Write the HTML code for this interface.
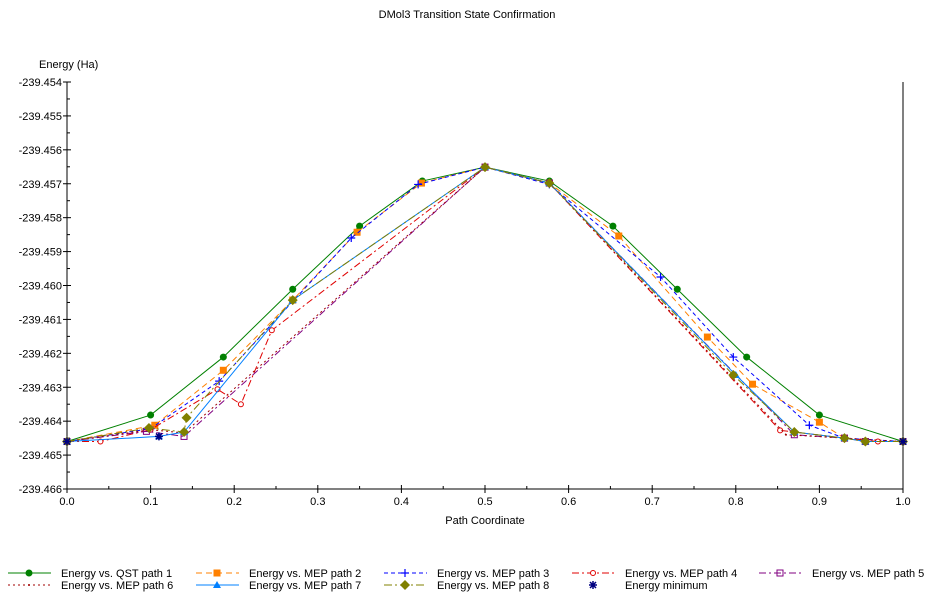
<!DOCTYPE html>
<html><head><meta charset="utf-8"><style>
body{margin:0;background:#fff;font-family:"Liberation Sans",sans-serif;}
svg text{font-family:"Liberation Sans",sans-serif;font-size:11px;fill:#000;}
</style></head><body>
<svg id="c" width="935" height="597" xmlns="http://www.w3.org/2000/svg">
<text x="467" y="18" text-anchor="middle">DMol3 Transition State Confirmation</text>
<text x="39" y="68">Energy (Ha)</text>
<text x="485" y="524" text-anchor="middle">Path Coordinate</text>
</svg>
<script>
const xTicks=[0,0.1,0.2,0.3,0.4,0.5,0.6,0.7,0.8,0.9,1.0];
const yTicks=[-239.454,-239.455,-239.456,-239.457,-239.458,-239.459,-239.460,-239.461,-239.462,-239.463,-239.464,-239.465,-239.466];
const qst1X=[0,0.1,0.187,0.27,0.35,0.425,0.5,0.577,0.653,0.73,0.813,0.9,1.0];
const qst1Y=[-239.4646,-239.46382,-239.46211,-239.46011,-239.45825,-239.45692,-239.45651,-239.45692,-239.45825,-239.46011,-239.46211,-239.46382,-239.4646];
const mep2X=[0,0.105,0.187,0.27,0.347,0.424,0.5,0.577,0.66,0.766,0.82,0.9,0.93,0.955,1.0];
const mep2Y=[-239.4646,-239.46412,-239.4625,-239.46043,-239.45843,-239.45698,-239.45651,-239.45698,-239.45854,-239.46152,-239.46291,-239.46403,-239.4645,-239.4646,-239.4646];
const mep3X=[0,0.1,0.182,0.34,0.42,0.5,0.577,0.71,0.797,0.888,0.93,1.0];
const mep3Y=[-239.4646,-239.46422,-239.46282,-239.4586,-239.45702,-239.45651,-239.45702,-239.45975,-239.46211,-239.46412,-239.4645,-239.4646];
const mep4X=[0,0.04,0.1,0.18,0.208,0.245,0.5,0.577,0.853,0.93,0.97,1.0];
const mep4Y=[-239.4646,-239.4646,-239.46425,-239.46306,-239.4635,-239.46132,-239.45651,-239.45698,-239.46427,-239.4645,-239.4646,-239.4646];
const mep5X=[0,0.095,0.14,0.5,0.577,0.87,0.93,0.955,1.0];
const mep5Y=[-239.4646,-239.4643,-239.46445,-239.45651,-239.45698,-239.4644,-239.4645,-239.4646,-239.4646];
const mep6X=[0,0.1,0.14,0.5,0.577,0.86,0.93,1.0];
const mep6Y=[-239.4646,-239.46425,-239.46435,-239.45651,-239.45698,-239.4644,-239.4645,-239.4646];
const mep7X=[0,0.11,0.14,0.27,0.5,0.577,0.8,0.87,0.93,0.955,1.0];
const mep7Y=[-239.4646,-239.46445,-239.46432,-239.46043,-239.45651,-239.45698,-239.46264,-239.46432,-239.4645,-239.4646,-239.4646];
const mep8X=[0,0.098,0.14,0.143,0.27,0.5,0.577,0.797,0.87,0.93,0.955,1.0];
const mep8Y=[-239.4646,-239.4642,-239.46432,-239.4639,-239.46043,-239.45651,-239.45698,-239.46264,-239.46432,-239.4645,-239.4646,-239.4646];
const minX=[0,0.11,1.0];
const minY=[-239.4646,-239.46445,-239.4646];

const NS="http://www.w3.org/2000/svg";
const svg=document.getElementById('c');
const X0=67,X1=903,Y0=82,Y1=489;
const xs=v=>X0+(v-0)*(X1-X0);
const ys=v=>Y0+(-239.454-v)/0.012*(Y1-Y0);
function mk(t,a){const e=document.createElementNS(NS,t);for(const k in a)e.setAttribute(k,a[k]);svg.appendChild(e);return e;}
let ax=mk('line',{x1:X0,y1:Y0,x2:X0,y2:Y1,stroke:'#000'});


ax=mk('line',{x1:X0,y1:Y1,x2:X1,y2:Y1,stroke:'#000'});


ax=mk('line',{x1:X1,y1:Y0,x2:X1,y2:Y1,stroke:'#000'});


yTicks.forEach((v,i)=>{const y=ys(v);
 mk('line',{x1:X0-4,y1:y,x2:X0+4,y2:y,stroke:'#000'});
 if(i<yTicks.length-1){const ym=ys(v-0.0005);mk('line',{x1:X0,y1:ym,x2:X0+3,y2:ym,stroke:'#000'});}
 const t=mk('text',{x:X0-5,y:y+4,'text-anchor':'end'});t.textContent=v.toFixed(3);
 
 });
xTicks.forEach((v,i)=>{const x=xs(v);
 mk('line',{x1:x,y1:Y1-4,x2:x,y2:Y1+4,stroke:'#000'});
 if(i<xTicks.length-1){const xm=xs(v+0.05);mk('line',{x1:xm,y1:Y1-3,x2:xm,y2:Y1,stroke:'#000'});}
 const t=mk('text',{x:x,y:Y1+16,'text-anchor':'middle'});t.textContent=v.toFixed(1);
 
 });
function marker(type,x,y,c){
 if(type==='circle')return mk('circle',{cx:x,cy:y,r:3.5,fill:c});
 if(type==='ocircle')return mk('circle',{cx:x,cy:y,r:2.5,fill:'#fff',stroke:c});
 if(type==='square')return mk('rect',{x:x-3.5,y:y-3.5,width:7,height:7,fill:c});
 if(type==='osquare')return mk('rect',{x:x-3,y:y-3,width:6,height:6,fill:'none',stroke:c});
 if(type==='plus')return mk('path',{d:`M${x-4},${y}H${x+4}M${x},${y-4}V${y+4}`,stroke:c,'stroke-width':1.2});
 if(type==='tri')return mk('path',{d:`M${x},${y-4}L${x+4},${y+3}L${x-4},${y+3}Z`,fill:c});
 if(type==='diamond')return mk('path',{d:`M${x},${y-5}L${x+5},${y}L${x},${y+5}L${x-5},${y}Z`,fill:c});
 if(type==='star')return mk('path',{d:`M${x-4},${y}H${x+4}M${x},${y-4}V${y+4}M${x-3},${y-3}L${x+3},${y+3}M${x+3},${y-3}L${x-3},${y+3}`,stroke:c,'stroke-width':1.5});
 if(type==='dot')return mk('circle',{cx:x,cy:y,r:1,fill:c});
}
const series=[
 ['qst1',qst1X,qst1Y,'#008000','','circle'],
 ['mep2',mep2X,mep2Y,'#ff8000','6,4','square'],
 ['mep3',mep3X,mep3Y,'#0000ff','4,3','plus'],
 ['mep4',mep4X,mep4Y,'#e00000','7,3,2,3','ocircle'],
 ['mep5',mep5X,mep5Y,'#800080','7,3,2,3','osquare'],
 ['mep6',mep6X,mep6Y,'#a00000','2,3','dot'],
 ['mep7',mep7X,mep7Y,'#0080ff','','tri'],
 ['mep8',mep8X,mep8Y,'#808000','8,3,2,3','diamond'],
 ['energy-min',minX,minY,'#000080',null,'star']];
series.forEach(s=>{
 const [n,X,Y,c,d,m]=s;
 if(d!==null){const p=mk('polyline',{points:X.map((v,i)=>xs(v)+','+ys(Y[i])).join(' '),fill:'none',stroke:c,'stroke-width':1,'stroke-dasharray':d});
  
  }
 X.forEach((v,i)=>{const e=marker(m,xs(v),ys(Y[i]),c);
  
  });
});
const leg=[['Energy vs. QST path 1',0],['Energy vs. MEP path 2',1],['Energy vs. MEP path 3',2],['Energy vs. MEP path 4',3],['Energy vs. MEP path 5',4],['Energy vs. MEP path 6',5],['Energy vs. MEP path 7',6],['Energy vs. MEP path 8',7],['Energy minimum',8]];
leg.forEach(([label,k],i)=>{
 const col=i%5,row=Math.floor(i/5);
 const x0=8+col*313*0.6+ (col>0?0:0);
 const lx=[8,196,384,572,759][col],ty=[573,585][row];
 const s=series[k];
 if(s[4]!==null){const l=mk('line',{x1:lx,y1:ty,x2:lx+43,y2:ty,stroke:s[3],'stroke-dasharray':s[4]});
  
  }
 marker(s[5],lx+21,ty,s[3]);
 const t=mk('text',{x:lx+53,y:ty+4});t.textContent=label;
 
 
});
</script>
</body></html>
